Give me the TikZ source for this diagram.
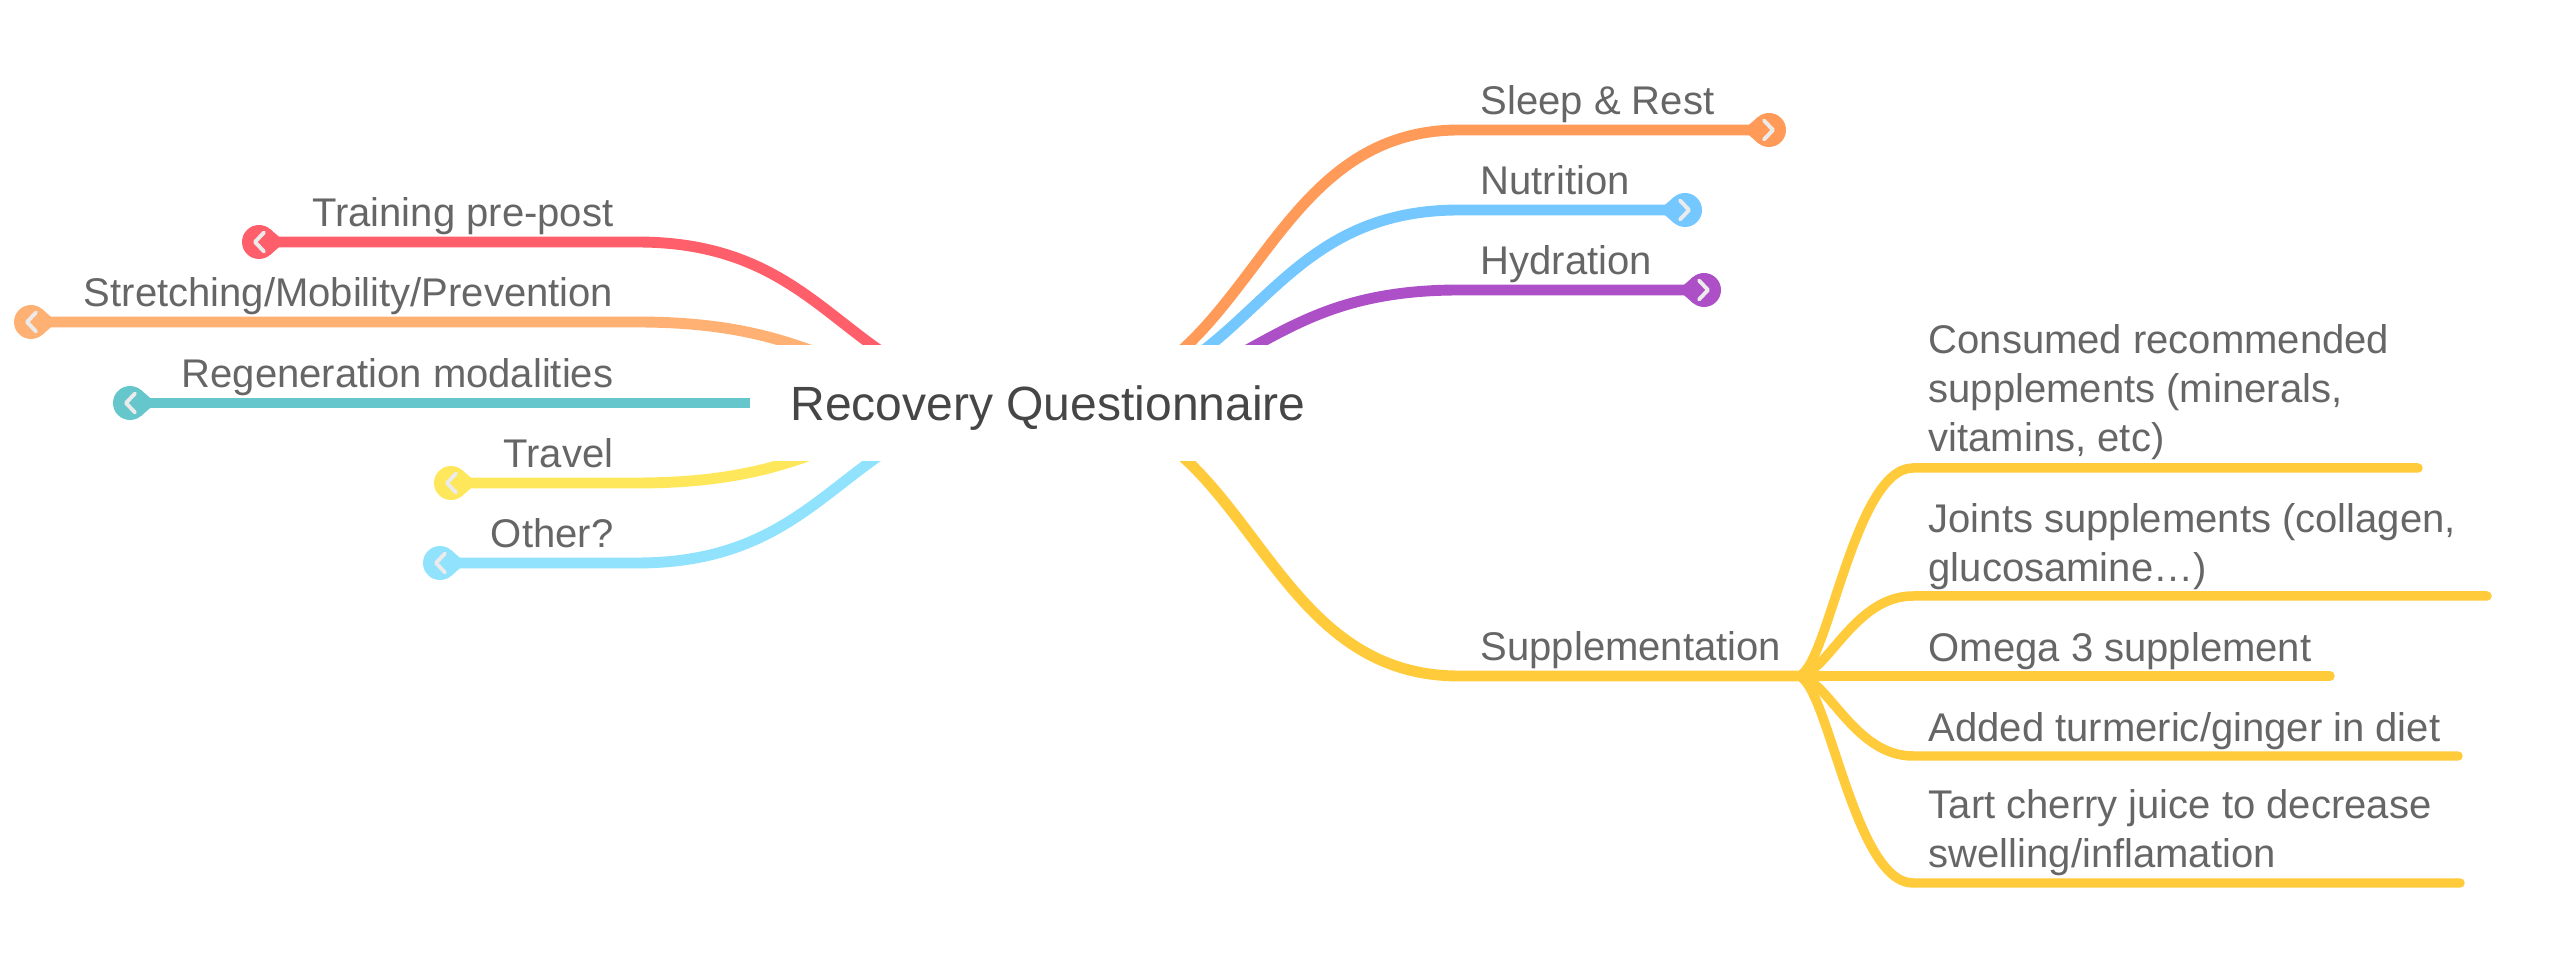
\documentclass[tikz,border=0pt]{standalone}
\usepackage{fontspec}
\setmainfont{Liberation Sans}
\usetikzlibrary{backgrounds}

\definecolor{txtgray}{HTML}{666666}
\definecolor{rootgray}{HTML}{464646}
\definecolor{trainred}{HTML}{FF5F6B}
\definecolor{stretchorange}{HTML}{FFB173}
\definecolor{regenteal}{HTML}{65C7CB}
\definecolor{travelyellow}{HTML}{FFE75B}
\definecolor{otherblue}{HTML}{90E2FD}
\definecolor{sleeporange}{HTML}{FF9A58}
\definecolor{nutriblue}{HTML}{75C8FF}
\definecolor{hydrapurple}{HTML}{AD50C7}
\definecolor{suppyellow}{HTML}{FFCB3B}

\tikzset{
  branch/.style={line width=3.1pt},
  twig/.style={line width=2.7pt, line cap=round, suppyellow},
  lbl/.style={text=txtgray, font=\fontsize{11.38pt}{13.94pt}\selectfont, inner sep=0pt},
  rootbox/.style={fill=white, text=rootgray, font=\fontsize{13.66pt}{16pt}\selectfont,
    minimum width=5.96cm, minimum height=1.16cm, text height=0.36cm, text depth=0.02cm},
  pics/knob/.style={code={
    \fill[#1] (-26,0) -- (-11.1,12.9) -- (-11.1,-12.9) -- cycle;
    \fill[#1] (0,0) circle (17);
    \draw[white!92!black, line width=1.1pt, line cap=round, line join=round] (-5,-9.5) -- (4,0) -- (-5,9.5);
  }}
}

\begin{document}
\begin{tikzpicture}[x=0.01cm, y=-0.01cm]
\useasboundingbox (0,0) rectangle (2556,958);

% central topic
\node[rootbox] (root) at (1048,403) {Recovery Questionnaire};

% knob positions
\coordinate (k-train) at (259,242);
\coordinate (k-stretch) at (31,322);
\coordinate (k-regen) at (130,403);
\coordinate (k-travel) at (451,483);
\coordinate (k-other) at (440,563);
\coordinate (k-sleep) at (1769,130);
\coordinate (k-nutri) at (1685,210);
\coordinate (k-hydra) at (1704,290);
\coordinate (fork) at (1797,676);

% main branches, behind the central topic
\begin{scope}[on background layer]
\draw[branch, trainred] (root.center) .. controls +(-205,0) and +(205,0) .. (637,242) -- (k-train);
\draw[branch, stretchorange] (root.center) .. controls +(-205,0) and +(205,0) .. (637,322) -- (k-stretch);
\draw[branch, regenteal] (root.center) -- (k-regen);
\draw[branch, travelyellow] (root.center) .. controls +(-205,0) and +(205,0) .. (637,483) -- (k-travel);
\draw[branch, otherblue] (root.center) .. controls +(-205,0) and +(205,0) .. (637,563) -- (k-other);

\draw[branch, sleeporange] (root.center) .. controls +(205,0) and +(-205,0) .. (1459,130) -- (k-sleep);
\draw[branch, nutriblue] (root.center) .. controls +(205,0) and +(-205,0) .. (1459,210) -- (k-nutri);
\draw[branch, hydrapurple] (root.center) .. controls +(205,0) and +(-205,0) .. (1459,290) -- (k-hydra);
\draw[branch, suppyellow] (root.center) .. controls +(205,0) and +(-205,0) .. (1459,676) -- (fork);
\end{scope}

% collapse knobs
\pic[rotate=180] at (k-train) {knob=trainred};
\pic[rotate=180] at (k-stretch) {knob=stretchorange};
\pic[rotate=180] at (k-regen) {knob=regenteal};
\pic[rotate=180] at (k-travel) {knob=travelyellow};
\pic[rotate=180] at (k-other) {knob=otherblue};
\pic at (k-sleep) {knob=sleeporange};
\pic at (k-nutri) {knob=nutriblue};
\pic at (k-hydra) {knob=hydrapurple};

% left labels
\node[lbl, anchor=base east] (train) at (614,227) {Training pre-post};
\node[lbl, anchor=base east] (stretch) at (614,307) {Stretching/Mobility/Prevention};
\node[lbl, anchor=base east] (regen) at (614,388) {Regeneration modalities};
\node[lbl, anchor=base east] (travel) at (614,468) {Travel};
\node[lbl, anchor=base east] (other) at (614,548) {Other?};

% right labels
\node[lbl, anchor=base west] (sleep) at (1480,115) {Sleep \& Rest};
\node[lbl, anchor=base west] (nutri) at (1480,195) {Nutrition};
\node[lbl, anchor=base west] (hydra) at (1480,275) {Hydration};
\node[lbl, anchor=base west] (supp) at (1480,661) {Supplementation};

% supplementation sub-topics
\coordinate (s1) at (1913,468);
\coordinate (s2) at (1913,596);
\coordinate (s3) at (1913,676);
\coordinate (s4) at (1913,756);
\coordinate (s5) at (1913,883);
\draw[twig] (fork) .. controls +(30,0) and +(-60,0) .. (s1) -- (2418,468);
\draw[twig] (fork) .. controls +(30,0) and +(-60,0) .. (s2) -- (2487,596);
\draw[twig] (fork) -- (s3) -- (2330,676);
\draw[twig] (fork) .. controls +(30,0) and +(-60,0) .. (s4) -- (2458,756);
\draw[twig] (fork) .. controls +(30,0) and +(-60,0) .. (s5) -- (2460,883);

% multi-line labels sit on the baseline of their last line
\node[lbl, anchor=base west, align=left] (sub1) at (1928,452) {Consumed recommended\\supplements (minerals,\\vitamins, etc)};
\node[lbl, anchor=base west, align=left] (sub2) at (1928,582) {Joints supplements (collagen,\\glucosamine…)};
\node[lbl, anchor=base west] (sub3) at (1928,662) {Omega 3 supplement};
\node[lbl, anchor=base west] (sub4) at (1928,742) {Added turmeric/ginger in diet};
\node[lbl, anchor=base west, align=left] (sub5) at (1928,868) {Tart cherry juice to decrease\\swelling/inflamation};
\end{tikzpicture}
\end{document}
